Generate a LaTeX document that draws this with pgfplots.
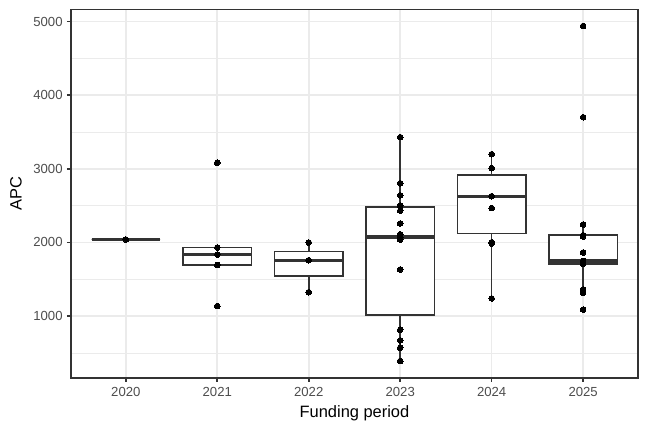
\documentclass[border=0pt]{standalone}
\usepackage{fontspec}
\setmainfont{Liberation Sans}
\usepackage{pgfplots}
\pgfplotsset{compat=1.18}
\definecolor{grey20}{HTML}{333333}
\definecolor{grey30}{HTML}{4D4D4D}
\definecolor{grey92}{HTML}{EBEBEB}

\pgfplotsset{
  box/.style={draw=grey20, fill=white, line width=1.07bp, mark=none},
  whisk/.style={draw=grey20, line width=1.07bp, mark=none},
  med/.style={draw=grey20, line width=2.13bp, mark=none},
}

\begin{document}
\begin{tikzpicture}
\begin{axis}[
  scale only axis, width=378bp, height=245.6bp,
  xmin=0.4, xmax=6.6, ymin=163, ymax=5166,
  xtick={1,2,3,4,5,6}, xticklabels={2020,2021,2022,2023,2024,2025},
  ytick={1000,2000,3000,4000,5000}, yticklabels={1000,2000,3000,4000,5000},
  minor ytick={500,1500,2500,3500,4500},
  grid=both,
  major grid style={grey92, line width=1.07bp},
  minor grid style={grey92, line width=0.53bp},
  axis line style={grey20, line width=1.07bp},
  tick align=outside, major tick length=2.75bp, minor tick length=0pt,
  tick style={grey20, line width=1.07bp},
  xtick pos=bottom, ytick pos=left,
  tick label style={font=\fontsize{8.8}{10}\selectfont, text=grey30},
  xticklabel style={anchor=north, inner sep=0pt, yshift=-3.4bp},
  yticklabel style={anchor=east, inner sep=0pt, xshift=-2.6bp},
  xlabel={Funding period}, ylabel={APC},
  label style={font=\fontsize{11}{13}\selectfont, text=black},
  xlabel style={at={(rel axis cs:0.5,0)}, anchor=north, inner sep=0pt, yshift=-18.5bp},
  ylabel style={at={(rel axis cs:0,0.5)}, anchor=south, inner sep=0pt, yshift=32.5bp},
  clip=false,
]
% 2020
\addplot[box] coordinates {(0.625,2040) (1.375,2040) (1.375,2040) (0.625,2040)} --cycle;
\addplot[med] coordinates {(0.625,2040) (1.375,2040)};
% 2021
\addplot[box] coordinates {(1.625,1695) (2.375,1695) (2.375,1931) (1.625,1931)} --cycle;
\addplot[med] coordinates {(1.625,1836) (2.375,1836)};
% 2022
\addplot[whisk] coordinates {(3,1879) (3,1999)};
\addplot[whisk] coordinates {(3,1325) (3,1542)};
\addplot[box] coordinates {(2.625,1542) (3.375,1542) (3.375,1879) (2.625,1879)} --cycle;
\addplot[med] coordinates {(2.625,1759) (3.375,1759)};
% 2023
\addplot[whisk] coordinates {(4,2478) (4,3430)};
\addplot[whisk] coordinates {(4,390) (4,1019)};
\addplot[box] coordinates {(3.625,1019) (4.375,1019) (4.375,2478) (3.625,2478)} --cycle;
\addplot[med] coordinates {(3.625,2075) (4.375,2075)};
% 2024
\addplot[whisk] coordinates {(5,2920) (5,3199)};
\addplot[whisk] coordinates {(5,1240) (5,2121)};
\addplot[box] coordinates {(4.625,2121) (5.375,2121) (5.375,2920) (4.625,2920)} --cycle;
\addplot[med] coordinates {(4.625,2628) (5.375,2628)};
% 2025
\addplot[whisk] coordinates {(6,2102) (6,2243)};
\addplot[whisk] coordinates {(6,1316) (6,1709)};
\addplot[box] coordinates {(5.625,1709) (6.375,1709) (6.375,2102) (5.625,2102)} --cycle;
\addplot[med] coordinates {(5.625,1749) (6.375,1749)};

\addplot[only marks, mark=*, mark size=1.9bp, mark options={draw=black, fill=black, line width=0pt}] coordinates {
  (1,2040)
  (2,3083) (2,1931) (2,1836) (2,1695) (2,1136)
  (3,1999) (3,1759) (3,1325)
  (4,3430) (4,2804) (4,2640) (4,2502) (4,2432) (4,2258) (4,2111) (4,2070) (4,2039) (4,1633) (4,814) (4,670) (4,570) (4,390)
  (5,3199) (5,3009) (5,2628) (5,2467) (5,2003) (5,1985) (5,1240)
  (6,4939) (6,3701) (6,2243) (6,2098) (6,2080) (6,1863) (6,1749) (6,1728) (6,1710) (6,1362) (6,1316) (6,1088)
};
\coordinate (ll) at (rel axis cs:0,0);
\coordinate (ur) at (rel axis cs:1,1);
\end{axis}
\pgfresetboundingbox
\path ([shift={(-47.3bp,-36.2bp)}]ll) rectangle ([shift={(6.67bp,6.2bp)}]ur);
\end{tikzpicture}
\end{document}
